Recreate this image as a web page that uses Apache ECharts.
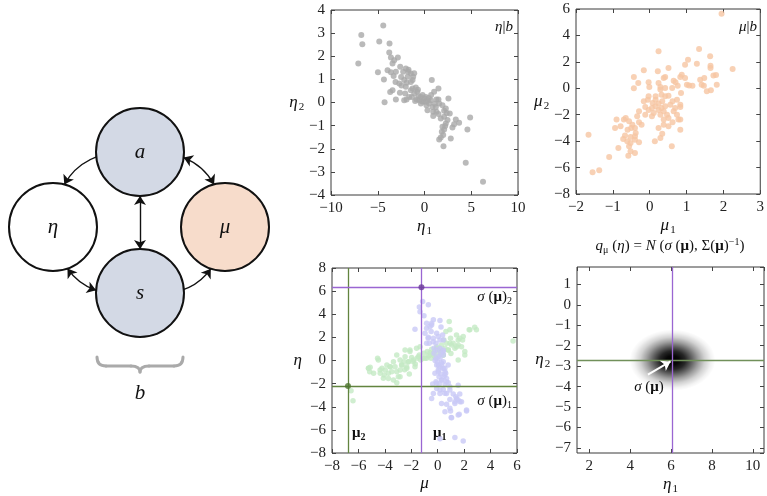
<!DOCTYPE html>
<html><head><meta charset="utf-8">
<script src="https://cdn.jsdelivr.net/npm/echarts@6/dist/echarts.min.js"></script>
<style>html,body{margin:0;padding:0;background:#fff}#c{width:767px;height:496px}</style>
</head><body><div id="c"></div>
<script>
// ---------- DATA ----------
// eta | b  (eta1, eta2)
const etaGivenB = [
[-6.76,2.92],[-6.65,2.52],[-7.08,1.69],[-4.41,3.33],[-4.84,2.64],[-3.74,2.55],[-3.77,2.16],[-4.98,1.31],[-4.34,0.99],[-4.27,0.01],
[-3.59,1.95],[-3.24,1.83],[-2.85,1.95],[-3.42,1.69],[-3.95,1.40],[-3.59,1.31],[-3.06,1.33],[-3.10,0.89],[-3.42,0.53],[-3.67,0.45],
[-3.06,0.13],[-2.63,0.42],[-2.46,0.73],[-2.17,0.97],[-2.28,1.33],[-2.0,1.47],[-1.74,1.33],[-1.46,1.25],[-1.10,1.27],[-1.81,1.11],
[-1.46,0.89],[-2.0,0.68],[-2.06,0.39],[-1.92,0.13],[-1.35,0.24],[-1.10,0.39],[-0.93,0.65],[-1.28,0.61],[-0.78,0.46],[-0.64,0.27],
[-0.85,0.13],[-0.57,0.10],[-1.0,0.06],[-0.39,0.24],[-0.21,0.32],[-0.04,0.17],[0.14,0.24],[-0.14,0.03],[0.32,0.10],[0.50,-0.04],
[0.21,-0.12],[0.68,0.10],[0.78,0.97],[1.03,0.46],[1.28,0.13],[1.49,0.13],[1.49,0.61],[0.32,-0.33],[0.93,-0.40],[0.93,-0.58],
[1.21,-0.19],[1.28,-0.40],[1.57,-0.04],[1.92,-0.12],[1.49,-0.50],[1.74,-0.69],[2.10,-0.36],[2.28,-0.26],[2.10,-0.62],[2.38,-0.45],
[2.56,0.17],[2.70,-0.48],[2.46,-0.76],[2.28,-0.91],[1.92,-1.05],[2.10,-1.17],[1.85,-1.27],[1.74,-1.51],[1.57,-1.60],[2.0,-1.40],
[2.21,-1.02],[2.03,-1.89],[2.81,-1.56],[2.99,-1.08],[3.17,-0.94],[3.35,-0.73],[3.70,-0.88],[4.59,-1.17],[4.88,-0.65],[4.41,-2.61],
[6.26,-3.43],[-1.28,0.97],[-1.46,0.53],[-1.64,0.24],[-2.17,0.10],[-2.7,0.82],[-1.71,1.42],[-1.21,1.11],[0.71,0.32],[0.14,0.03],
[-0.39,-0.04],[0.85,-0.19],[-2.5,1.1],[-1.9,0.85],[-0.3,0.05],[0.45,0.2],[1.1,-0.05],[-3.3,1.15],[-2.6,1.55],[-0.7,0.55]
];
// mu | b  (mu1, mu2)
const muGivenB = [
[1.95,5.65],[2.25,1.46],[1.34,2.97],[0.24,2.80],[1.64,2.42],[1.28,1.86],[1.04,2.16],[0.96,1.78],[1.65,1.71],[1.65,1.53],
[0.96,0.77],[0.83,0.85],[0.51,1.53],[0.22,1.28],[-0.16,1.36],[-0.43,0.85],[-0.31,0.40],[-0.03,0.45],[-0.01,0.10],[-0.43,0.0],
[0.38,0.77],[0.42,0.85],[0.65,0.57],[0.70,0.45],[0.76,0.20],[0.61,0.02],[0.24,0.40],[0.29,0.10],[1.01,0.27],[1.07,0.22],
[1.16,0.20],[1.37,0.65],[1.48,0.77],[1.73,0.96],[1.80,1.01],[1.41,0.27],[1.47,0.20],[1.55,-0.23],[1.66,-0.15],[0.85,-0.36],
[0.74,-0.86],[0.83,-1.24],[0.83,-1.42],[0.51,-0.56],[0.42,-0.61],[0.32,-0.48],[0.16,-0.61],[-0.03,-0.61],[-0.05,-0.86],[-0.16,-0.99],
[0.16,-0.86],[0.08,-1.11],[0.24,-1.16],[0.34,-0.99],[0.42,-1.36],[0.56,-1.24],[0.62,-0.99],[0.16,-1.36],[0.06,-1.49],[0.24,-1.64],
[0.32,-1.49],[0.38,-1.74],[0.11,-1.87],[-0.03,-1.64],[-0.12,-1.42],[0.29,-2.00],[0.47,-2.00],[0.06,-2.12],[0.51,-2.25],[0.38,-2.37],
[0.74,-2.00],[0.78,-2.37],[0.69,-1.49],[0.65,-1.74],[-0.29,-1.74],[-0.12,-2.00],[-0.34,-2.12],[-0.65,-2.25],[-0.70,-2.37],[-0.90,-2.37],
[-0.56,-2.50],[-0.47,-2.75],[-0.29,-2.57],[-0.22,-2.75],[-0.40,-3.00],[-0.50,-3.00],[-0.79,-2.87],[-0.94,-3.00],[-0.60,-3.14],[-0.38,-3.38],
[-0.40,-3.63],[-0.52,-3.69],[-0.67,-3.58],[-0.72,-3.84],[-0.61,-4.01],[-0.52,-4.14],[-0.40,-3.89],[-0.29,-4.09],[-0.85,-4.52],[-0.56,-4.39],
[-0.52,-4.77],[-0.58,-5.10],[-1.10,-5.20],[-0.40,-4.90],[-1.37,-6.21],[-1.55,-6.36],[-1.66,-3.51],[0.24,-3.00],[0.38,-2.75],[0.29,-3.76],
[0.14,-4.01],[0.34,-3.44],[0.51,-2.87],[0.62,-2.57],[0.83,-3.14],[0.60,-4.39],[0.87,1.03],[1.82,0.27],[0.83,-2.37],[0.29,-0.10],[0.42,0.02]
];
// panel 3, green: (mu2, eta2)
const panel3Green = [
[-6.56,-2.62],[-6.41,-3.49],[-5.23,-0.68],[-5.15,-0.97],[-4.85,-1.11],[-4.55,0.19],[-4.35,-1.11],[-4.22,-0.68],[-3.97,-0.82],[-4.05,-1.26],
[-3.85,-0.39],[-3.60,-0.54],[-3.73,-1.55],[-3.48,-0.97],[-3.35,-0.10],[-3.23,-0.54],[-3.10,-1.92],[-2.98,-1.40],[-2.85,0.04],[-2.73,-0.39],
[-2.85,-0.82],[-2.55,-0.10],[-2.47,0.33],[-2.35,-0.54],[-2.22,-0.10],[-2.15,-1.17],[-1.97,0.27],[-1.84,-0.10],[-1.72,-0.54],[-1.60,1.06],
[-1.55,0.19],[-1.39,0.48],[-1.29,0.04],[-1.14,0.19],[-1.04,0.62],[-0.84,0.19],[-0.71,0.39],[-0.58,0.68],[-0.46,0.97],[-0.33,0.48],
[-0.21,0.85],[-0.08,1.20],[0.04,0.62],[0.17,0.91],[0.29,1.35],[0.42,0.48],[0.47,1.78],[0.55,1.06],[0.67,1.49],[0.80,0.91],
[0.87,3.37],[0.92,2.65],[0.97,1.92],[1.05,1.35],[1.17,1.49],[1.30,1.06],[1.42,2.21],[1.55,1.35],[1.67,1.92],[1.80,1.20],
[1.88,1.78],[2.05,0.77],[2.38,2.65],[2.80,2.88],[2.93,2.65],[5.70,1.69],[-2.1,0.77],[-2.47,0.91],[-3.10,0.48],[-5.24,-0.67],
[-4.36,-0.82],[-3.73,-1.11],[-3.10,-0.97],[-3.35,-1.69],[-2.85,-1.40],[-2.34,-0.67],[-4.11,-1.54],[2.43,2.65],[1.93,2.07],[1.55,1.78],
[1.43,1.20],[0.92,1.49],[0.79,0.91],[0.62,2.50],[2.05,0.48],[1.55,0.05],[-0.21,0.33],[-0.59,0.48],[-0.96,0.19],[-1.47,0.33],
[-1.85,0.05],[-2.22,-0.10],[-2.72,-0.39],[-2.1,0.91],[-1.34,1.20],[-3.6,-0.54],[-4.49,0.05],[-5.11,-0.58],[0.17,0.91],[0.42,0.48],
[-0.08,1.06],[-0.34,0.62],[-0.79,0.77],[0.3,0.7],[-0.5,0.2],[1.0,0.6],[-1.7,-0.3],[-2.5,-0.8]
];
// panel 3, lavender: (mu1, eta1)
const panel3Lavender = [
[-1.39,4.62],[-1.14,5.11],[-0.71,4.82],[-1.34,4.21],[-1.04,3.86],[-1.72,2.71],[-0.84,2.79],[-0.58,2.94],[-0.46,3.23],[-0.33,3.52],
[0.17,3.46],[-0.96,2.36],[-0.71,2.01],[-0.84,1.49],[-0.64,1.49],[-0.33,1.92],[-0.13,1.49],[0.04,2.07],[0.37,2.21],[0.42,1.78],
[-0.28,1.06],[-0.08,0.91],[0.17,1.06],[0.42,0.77],[-0.13,0.19],[-0.03,-0.10],[0.17,0.19],[0.29,-0.19],[0.12,-0.54],[0.37,-0.68],
[0.55,-0.97],[0.04,-0.82],[0.22,-1.17],[0.47,-1.40],[0.67,-1.55],[0.29,-1.69],[-0.13,-1.84],[-0.38,-2.04],[0.12,-2.04],[0.55,-2.04],
[0.80,-1.92],[1.55,-2.13],[0.42,-2.50],[0.17,-2.85],[0.67,-2.85],[0.92,-2.56],[1.17,-2.90],[1.67,-2.90],[1.37,-3.13],[1.55,-3.42],
[1.30,-3.57],[1.80,-3.57],[0.92,-3.37],[0.67,-3.78],[0.29,-3.72],[0.97,-4.36],[1.63,-4.65],[1.02,-4.94],[2.18,-4.36],[0.55,-4.44],
[0.17,-6.76],[1.30,-6.67],[1.93,-6.96],[0.42,0.48],[-0.28,0.62],[0.04,-0.39],[-0.21,-1.11],[-0.08,-2.42],[-0.33,-2.85],[-0.84,3.23],
[-0.46,3.08],[-0.08,2.36],[0.17,1.78],[-0.34,1.63],[-0.72,1.93],[0.42,0.91],[0.04,0.33],[0.42,-0.10],[0.79,-0.39],[-0.08,-0.39],
[0.54,-0.67],[0.42,-0.67],[0.04,-0.97],[0.54,-1.25],[0.29,-1.69],[0.67,-1.83],[-0.08,-1.97],[0.92,-2.27],[0.17,-2.55],[0.54,-2.84],
[-0.46,-3.28],[1.43,-3.28],[1.30,-3.71],[1.68,-3.57],[0.92,-4.14],[2.18,-4.29],[1.55,-4.72],[1.05,-4.96],[0.2,0.6],[-0.2,0.0],
[0.3,-0.3],[0.1,-1.4],[0.6,-1.1],[-0.5,2.5],[0.25,2.9]
];
const muValue = [-1.23, -6.79];      // mu1, mu2 (vertical lines)
const sigmaMu = [-2.2, 6.33];        // sigma(mu)1, sigma(mu)2 (horizontal lines)
const qCenter = [6.07, -2.71];       // sigma(mu) in panel 4
const qSpread = [2.1, 1.5];          // blob half-widths (eta1, eta2)
const qArrowTail = [4.87, -3.41];
const nodeNames = ['a', 'η', 'μ', 's'];
const edgeList = [['a','η'],['a','μ'],['a','s'],['η','s'],['s','μ']];

// ---------- RENDER ----------
const SERIF = "Liberation Serif";
const fmt = v => '{t|' + String(+(+v).toFixed(6)).replace('-', '\u2212') + '}';
const labRich = {t: {fontFamily: SERIF, fontSize: 15, color: '#222'}};
const chart = echarts.init(document.getElementById('c'));

const grids = [
  {left: 331, top: 10, width: 187, height: 185},
  {left: 576, top: 9, width: 186, height: 185},
  {left: 332, top: 268, width: 185, height: 185},
  {left: 577, top: 267, width: 187, height: 186},
  {left: 0, top: 0, width: 280, height: 496, show: false}
];
grids.forEach((g, i) => { if (i < 4) Object.assign(g, {show: true, borderColor: '#3a3a3a', borderWidth: 1, backgroundColor: 'transparent'}); });

const subRich = {
  i: {fontFamily: SERIF, fontStyle: 'italic', fontSize: 17, lineHeight: 18, color: '#111'},
  s: {fontFamily: SERIF, fontSize: 11, lineHeight: 12, padding: [9, 0, 0, 1], color: '#111'}
};
const axCfg = [
  {x: {min: -10, max: 10, interval: 5}, y: {min: -4, max: 4, interval: 1}, xn: '{i|η}{s|1}', yn: '{i|η}{s|2}', xg: 20, yg: 20},
  {x: {min: -2, max: 3, interval: 1}, y: {min: -8, max: 6, interval: 2}, xn: '{i|μ}{s|1}', yn: '{i|μ}{s|2}', xg: 20, yg: 22},
  {x: {min: -8, max: 6, interval: 2}, y: {min: -8, max: 8, interval: 2}, xn: '{i|μ}', yn: '{i|η}', xg: 22, yg: 30},
  {x: {min: 1.4, max: 10.55, splitNumber: 5}, y: {min: -7.25, max: 1.85, splitNumber: 9}, xn: '{i|η}{s|1}', yn: '{i|η}{s|2}', xg: 23, yg: 13, hideEnds: true}
];
const xAxes = [], yAxes = [];
axCfg.forEach((c, gi) => {
  const lab = {fontFamily: SERIF, fontSize: 15, color: '#222', formatter: fmt, rich: labRich, margin: 6};
  if (c.hideEnds) { lab.showMinLabel = false; lab.showMaxLabel = false; }
  const tick = {show: true, inside: true, length: 4, lineStyle: {color: '#444', width: 1}};
  const line = {show: false, onZero: false};
  xAxes.push(Object.assign({type: 'value', gridIndex: gi, position: 'bottom', axisLine: line, splitLine: {show: false},
    axisTick: tick, axisLabel: lab, name: c.xn, nameLocation: 'middle', nameGap: c.xg,
    nameTextStyle: {rich: subRich}}, c.x));
  xAxes.push(Object.assign({type: 'value', gridIndex: gi, position: 'top', axisLine: line, splitLine: {show: false},
    axisTick: tick, axisLabel: {show: false}}, c.x));
  yAxes.push(Object.assign({type: 'value', gridIndex: gi, position: 'left', axisLine: line, splitLine: {show: false},
    axisTick: tick, axisLabel: lab, name: c.yn, nameLocation: 'middle', nameGap: c.yg, nameRotate: 0,
    nameTextStyle: {rich: subRich, align: 'right'}}, c.y));
  yAxes.push(Object.assign({type: 'value', gridIndex: gi, position: 'right', axisLine: line, splitLine: {show: false},
    axisTick: tick, axisLabel: {show: false}}, c.y));
});
// diagram axes (hidden, pixel-like units)
xAxes.push({type: 'value', gridIndex: 4, min: 0, max: 280, show: false});
yAxes.push({type: 'value', gridIndex: 4, min: 0, max: 496, inverse: true, show: false});

const purple = '#9a66d2', green = '#62843f';
const nodePos = {'a': [140, 152], 'η': [53, 227], 'μ': [225, 227], 's': [140, 293]};
const nodeFill = {'a': '#d3d9e5', 'η': '#ffffff', 'μ': '#f7dccb', 's': '#d3d9e5'};
const curv = {'a-η': -0.5, 'a-μ': 0.5, 'a-s': 0, 'η-s': -0.5, 's-μ': -0.5};
const both = {'a-μ': true, 'a-s': true, 'η-s': true};

const blobFill = {type: 'radial', x: 0.5, y: 0.5, r: 0.5, colorStops: [
  {offset: 0, color: 'rgba(0,0,0,1)'}, {offset: 0.15, color: 'rgba(0,0,0,0.97)'},
  {offset: 0.3, color: 'rgba(0,0,0,0.85)'}, {offset: 0.45, color: 'rgba(0,0,0,0.62)'},
  {offset: 0.6, color: 'rgba(0,0,0,0.38)'}, {offset: 0.75, color: 'rgba(0,0,0,0.18)'},
  {offset: 0.9, color: 'rgba(0,0,0,0.05)'}, {offset: 1, color: 'rgba(0,0,0,0)'}]};

const series = [
  {type: 'scatter', xAxisIndex: 0, yAxisIndex: 0, data: etaGivenB, symbolSize: 6, itemStyle: {color: '#a9a9a9'}},
  {type: 'scatter', xAxisIndex: 2, yAxisIndex: 2, data: muGivenB, symbolSize: 6, itemStyle: {color: '#f6c6a3'}},
  {type: 'scatter', xAxisIndex: 4, yAxisIndex: 4, data: panel3Green, symbolSize: 5.5, itemStyle: {color: '#c4eac4'}},
  {type: 'scatter', xAxisIndex: 4, yAxisIndex: 4, data: panel3Lavender, symbolSize: 5.5, itemStyle: {color: '#c9c9f6'}},
  {type: 'scatter', xAxisIndex: 4, yAxisIndex: 4, symbolSize: 6, z: 5,
    data: [{value: [muValue[0], sigmaMu[1]], itemStyle: {color: '#6a3a98'}}, {value: [muValue[1], sigmaMu[0]], itemStyle: {color: '#4d7530'}}],
    markLine: {silent: true, symbol: 'none', label: {show: false}, animation: false, z: 4,
      data: [
        {xAxis: muValue[1], lineStyle: {color: green, width: 1.3, type: 'solid'}},
        {yAxis: sigmaMu[0], lineStyle: {color: green, width: 1.3, type: 'solid'}},
        {xAxis: muValue[0], lineStyle: {color: purple, width: 1.3, type: 'solid'}},
        {yAxis: sigmaMu[1], lineStyle: {color: purple, width: 1.3, type: 'solid'}}
      ]}},
  {type: 'custom', xAxisIndex: 6, yAxisIndex: 6, data: [[qCenter[0], qCenter[1], qSpread[0], qSpread[1]]],
    renderItem: function (params, api) {
      const c = api.coord([api.value(0), api.value(1)]);
      const rx = api.size([api.value(2), 0])[0];
      const ry = api.size([0, api.value(3)])[1];
      return {type: 'circle', x: c[0], y: c[1], scaleY: ry / rx, shape: {cx: 0, cy: 0, r: rx},
        style: {fill: blobFill}};
    },
    markLine: {silent: true, label: {show: false}, animation: false, symbol: 'none',
      data: [
        {yAxis: qCenter[1], lineStyle: {color: '#71905a', width: 1.3, type: 'solid'}},
        {xAxis: qCenter[0], lineStyle: {color: purple, width: 1.3, type: 'solid'}},
        [{coord: qArrowTail, symbol: 'none'}, {coord: [qCenter[0] - 0.09, qCenter[1] - 0.06], symbol: 'arrow', symbolSize: 9,
          lineStyle: {color: '#ffffff', width: 2, type: 'solid'}}]
      ]}},
  {type: 'graph', coordinateSystem: 'cartesian2d', xAxisIndex: 8, yAxisIndex: 8, layout: 'none', z: 3,
    symbol: 'circle', symbolSize: 88, edgeSymbolSize: 9,
    itemStyle: {borderColor: '#111', borderWidth: 2},
    label: {show: true, position: 'inside', fontFamily: SERIF, fontStyle: 'italic', fontSize: 21, color: '#111'},
    lineStyle: {color: '#111', width: 1.4, opacity: 1},
    data: nodeNames.map(n => ({name: n, value: nodePos[n], itemStyle: {color: nodeFill[n]}})),
    links: edgeList.map(e => {
      const k = e[0] + '-' + e[1];
      return {source: e[0], target: e[1], symbol: both[k] ? ['arrow', 'arrow'] : ['none', 'arrow'],
        lineStyle: {curveness: curv[k]}};
    })}
];

const txt = (x, y, text, rich, align) => ({type: 'text', x: x, y: y, silent: true,
  style: {text: text, rich: rich, align: align || 'left', verticalAlign: 'middle', fontFamily: SERIF, fill: '#111'}});
const R = {
  n: {fontFamily: SERIF, fontSize: 15, color: '#111', lineHeight: 18},
  i: {fontFamily: SERIF, fontStyle: 'italic', fontSize: 15, color: '#111', lineHeight: 18},
  b: {fontFamily: SERIF, fontWeight: 'bold', fontSize: 15, color: '#111', lineHeight: 18},
  s: {fontFamily: SERIF, fontSize: 10, color: '#111', lineHeight: 10, padding: [9, 0, 0, 0]},
  bs: {fontFamily: SERIF, fontWeight: 'bold', fontSize: 10, color: '#111', lineHeight: 10, padding: [9, 0, 0, 0]},
  sup: {fontFamily: SERIF, fontSize: 10, color: '#111', lineHeight: 10, padding: [0, 0, 8, 0]}
};
const braceStyle = {stroke: '#aaaaaa', lineWidth: 3, fill: null, lineCap: 'round'};
const bz = (x1, y1, cx, cy, x2, y2) => ({type: 'bezierCurve', silent: true, shape: {x1: x1, y1: y1, cpx1: cx, cpy1: cy, x2: x2, y2: y2}, style: braceStyle});
const ln = (x1, y1, x2, y2) => ({type: 'line', silent: true, shape: {x1: x1, y1: y1, x2: x2, y2: y2}, style: braceStyle});

const graphic = [
  txt(513, 27, '{i|η}{n||}{i|b}', R, 'right'),
  txt(757, 27, '{i|μ}{n||}{i|b}', R, 'right'),
  txt(512, 297, '{i|σ}{n| (}{b|μ}{n|)}{s|2}', R, 'right'),
  txt(512, 401, '{i|σ}{n| (}{b|μ}{n|)}{s|1}', R, 'right'),
  txt(352, 433, '{b|μ}{bs|2}', R, 'left'),
  txt(433, 433, '{b|μ}{bs|1}', R, 'left'),
  txt(649, 387, '{i|σ}{n| (}{b|μ}{n|)}', R, 'center'),
  txt(670, 246, '{i|q}{s|μ}{n| (}{i|η}{n|) = }{i|N}{n| (}{i|σ}{n| (}{b|μ}{n|), Σ(}{b|μ}{n|)}{sup|−1}{n|)}', R, 'center'),
  bz(97, 357, 97, 366, 106, 366), ln(106, 366, 131, 366), bz(131, 366, 140, 366, 140, 372),
  bz(140, 372, 140, 366, 149, 366), ln(149, 366, 174, 366), bz(174, 366, 183, 366, 183, 357),
  txt(140, 393, '{i|b}', {i: {fontFamily: SERIF, fontStyle: 'italic', fontSize: 21, color: '#111'}}, 'center')
];

chart.setOption({
  animation: false,
  textStyle: {fontFamily: SERIF},
  grid: grids,
  xAxis: xAxes,
  yAxis: yAxes,
  series: series,
  graphic: graphic
});
</script></body></html>
